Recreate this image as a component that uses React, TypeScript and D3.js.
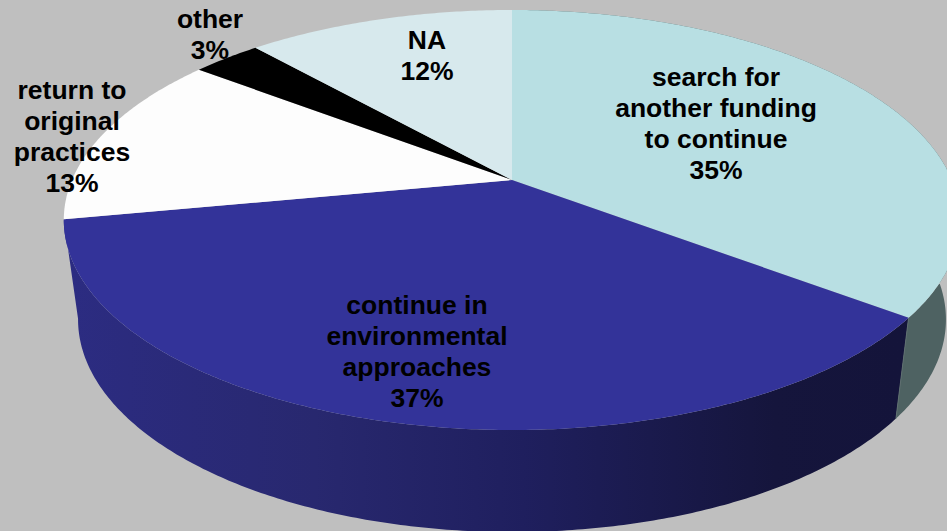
import React from "react";
import * as d3 from "d3";

const categories = ["search for another funding to continue", "continue in environmental approaches", "return to original practices", "other", "NA"];
const values = [35.3, 36.7, 13.4, 3, 11.6];
const labelLines = [
  ["search for", "another funding", "to continue"],
  ["continue in", "environmental", "approaches"],
  ["return to", "original", "practices"],
  ["other"],
  ["NA"],
];
const topColors = ["#b8dfe3", "#333399", "#fdfdfd", "#000000", "#d7e9ed"];

const W = 947, H = 531;
const labelAnchor = [[716, 86], [417, 314], [72, 99], [210, 28], [427, 49]];
const lineGap = 31;

// perspective projection of a unit disc on the screen
const persp = 0.1905;
const project = (s: number, a: number, b: number) => (t: number) => {
  const u = Math.sin(t), v = Math.cos(t), d = 1 + persp * v;
  return [512 + (s * u) / d, (a * v + b) / d] as [number, number];
};
const topRim = project(440, -168.1, 180);
const baseRim = project(426, -151.7, 279);

const line = d3.line();
const samples = (a: number, b: number) => {
  const n = Math.max(2, Math.ceil((b - a) / 0.01));
  return d3.range(n + 1).map((i) => a + ((b - a) * i) / n);
};

export default function App() {
  const arcs = d3.pie<number>().sort(null)(values);
  const apex: [number, number] = [512, 180];
  const wallColors = ["#4e6262", "url(#wall)"];
  return (
    <svg width={W} height={H} style={{ position: "absolute", left: 0, top: 0, display: "block" }}>
      <defs>
        <linearGradient id="wall" gradientUnits="userSpaceOnUse" x1={64} x2={900} y1={0} y2={0}>
          <stop offset="0" stopColor="#2c2c82" />
          <stop offset="0.3" stopColor="#28286f" />
          <stop offset="0.55" stopColor="#1f1f5e" />
          <stop offset="0.85" stopColor="#15153c" />
          <stop offset="1" stopColor="#14143a" />
        </linearGradient>
      </defs>
      <rect width={W} height={H} fill="#bfbfbf" />
      {arcs.slice(0, 2).map((d, i) => {
        const ts = samples(d.startAngle, d.endAngle);
        const pts = [...ts.map(topRim), ...ts.slice().reverse().map(baseRim)];
        return <path key={i} d={line(pts) + "Z"} fill={wallColors[i]} />;
      })}
      {(() => {
        const t = arcs[0].endAngle;
        return <path d={line([topRim(t), baseRim(t)]) as string} stroke="#5f7070" strokeWidth={1} fill="none" />;
      })()}
      {arcs.map((d, i) => {
        const pts = [apex, ...samples(d.startAngle, d.endAngle).map(topRim)];
        return <path key={categories[i]} d={line(pts) + "Z"} fill={topColors[i]} />;
      })}
      {arcs.map((d, i) => {
        const rows = [...labelLines[i], `${d3.format(".0f")(values[i])}%`];
        return (
          <text
            key={i}
            textAnchor="middle"
            fontFamily="'Liberation Sans', Arial, sans-serif"
            fontWeight="bold"
            fontSize={26.5}
            fill="#000"
          >
            {rows.map((r, j) => (
              <tspan key={j} x={labelAnchor[i][0]} y={labelAnchor[i][1] + j * lineGap}>
                {r}
              </tspan>
            ))}
          </text>
        );
      })}
    </svg>
  );
}
